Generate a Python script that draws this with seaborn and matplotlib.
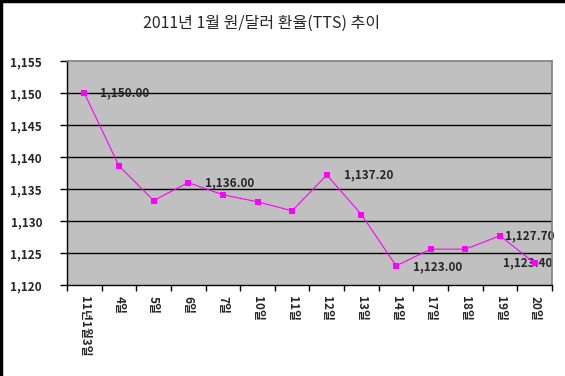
import matplotlib
matplotlib.use("Agg")
import matplotlib.pyplot as plt
import numpy as np
import pandas as pd
import seaborn as sns
from matplotlib.lines import Line2D

# 2011년 1월 원/달러 환율 (TTS)
days = ["11년1월3일", "4일", "5일", "6일", "7일", "10일", "11일",
        "12일", "13일", "14일", "17일", "18일", "19일", "20일"]
rates = [1150.0, 1138.6, 1133.2, 1136.0, 1134.1, 1133.0, 1131.6,
         1137.2, 1131.0, 1123.0, 1125.6, 1125.6, 1127.7, 1123.4]
# labelled points and where their text goes (pixels)
label_idx = [0, 3, 7, 9, 12, 13]
label_dx = [16, 17, 17, 17, 5, -32]
label_dy = [0, 0, 0, -1, 0, 0]

sns.set_style("white")
plt.rcParams["font.family"] = ["Noto Sans CJK KR", "DejaVu Sans"]

df = pd.DataFrame({"day": days, "rate": rates})

fig = plt.figure(figsize=(5.65, 3.76), dpi=100)
ax = fig.add_axes([67 / 565, 1 - 285 / 376, (552 - 67) / 565, (285 - 61) / 376])
ax.set_facecolor("#C0C0C0")

sns.pointplot(data=df, x="day", y="rate", color="#FF00FF", markers="s",
              markersize=4.5, linewidth=0.8, errorbar=None, ax=ax, zorder=3)
ax.lines[0].set_markeredgewidth(0)

ax.set_xlim(-0.5, len(days) - 0.5)
ax.set_ylim(1120, 1155)
yt = np.arange(1120, 1156, 5)
ax.set_yticks(yt)
ax.set_yticklabels([f"{v:,}" for v in yt], fontsize=8.5, fontweight="bold")
for v in yt[1:-1]:
    ax.axhline(v, color="black", lw=1, zorder=1)

ax.set_xticks(range(len(days)))
ax.set_xticklabels(days, rotation=-90, fontsize=8.5, fontweight="bold",
                   va="top", ha="center")
ax.set_xticks(np.arange(-0.5, len(days), 1), minor=True)
ax.tick_params(axis="x", which="major", length=0, pad=8)
ax.tick_params(axis="x", which="minor", length=4, width=1, color="black",
               direction="out", bottom=True)
ax.tick_params(axis="y", length=5, width=1, color="black", direction="out",
               left=True, pad=13)
ax.set_xlabel("")
ax.set_ylabel("")

for s in ["left", "bottom"]:
    ax.spines[s].set_color("black")
    ax.spines[s].set_linewidth(1)
for s in ["top", "right"]:
    ax.spines[s].set_color("#808080")
    ax.spines[s].set_linewidth(1.2)

for i, dx, dy in zip(label_idx, label_dx, label_dy):
    ax.annotate(f"{rates[i]:,.2f}", (i, rates[i]), xytext=(dx, dy),
                textcoords="offset pixels", ha="left", va="center",
                fontsize=8.5, fontweight="bold", zorder=2)

fig.text(262 / 565, 1 - 23 / 376, "2011년 1월 원/달러 환율(TTS) 추이",
         ha="center", va="center", fontsize=11.5)

# outer frame (left and top edges)
fig.add_artist(Line2D([0.002, 0.002], [0, 1], color="black", lw=2.5,
                      transform=fig.transFigure))
fig.add_artist(Line2D([0, 1], [0.997, 0.997], color="black", lw=2.5,
                      transform=fig.transFigure))

fig.savefig("out.png", dpi=100, facecolor="white")
